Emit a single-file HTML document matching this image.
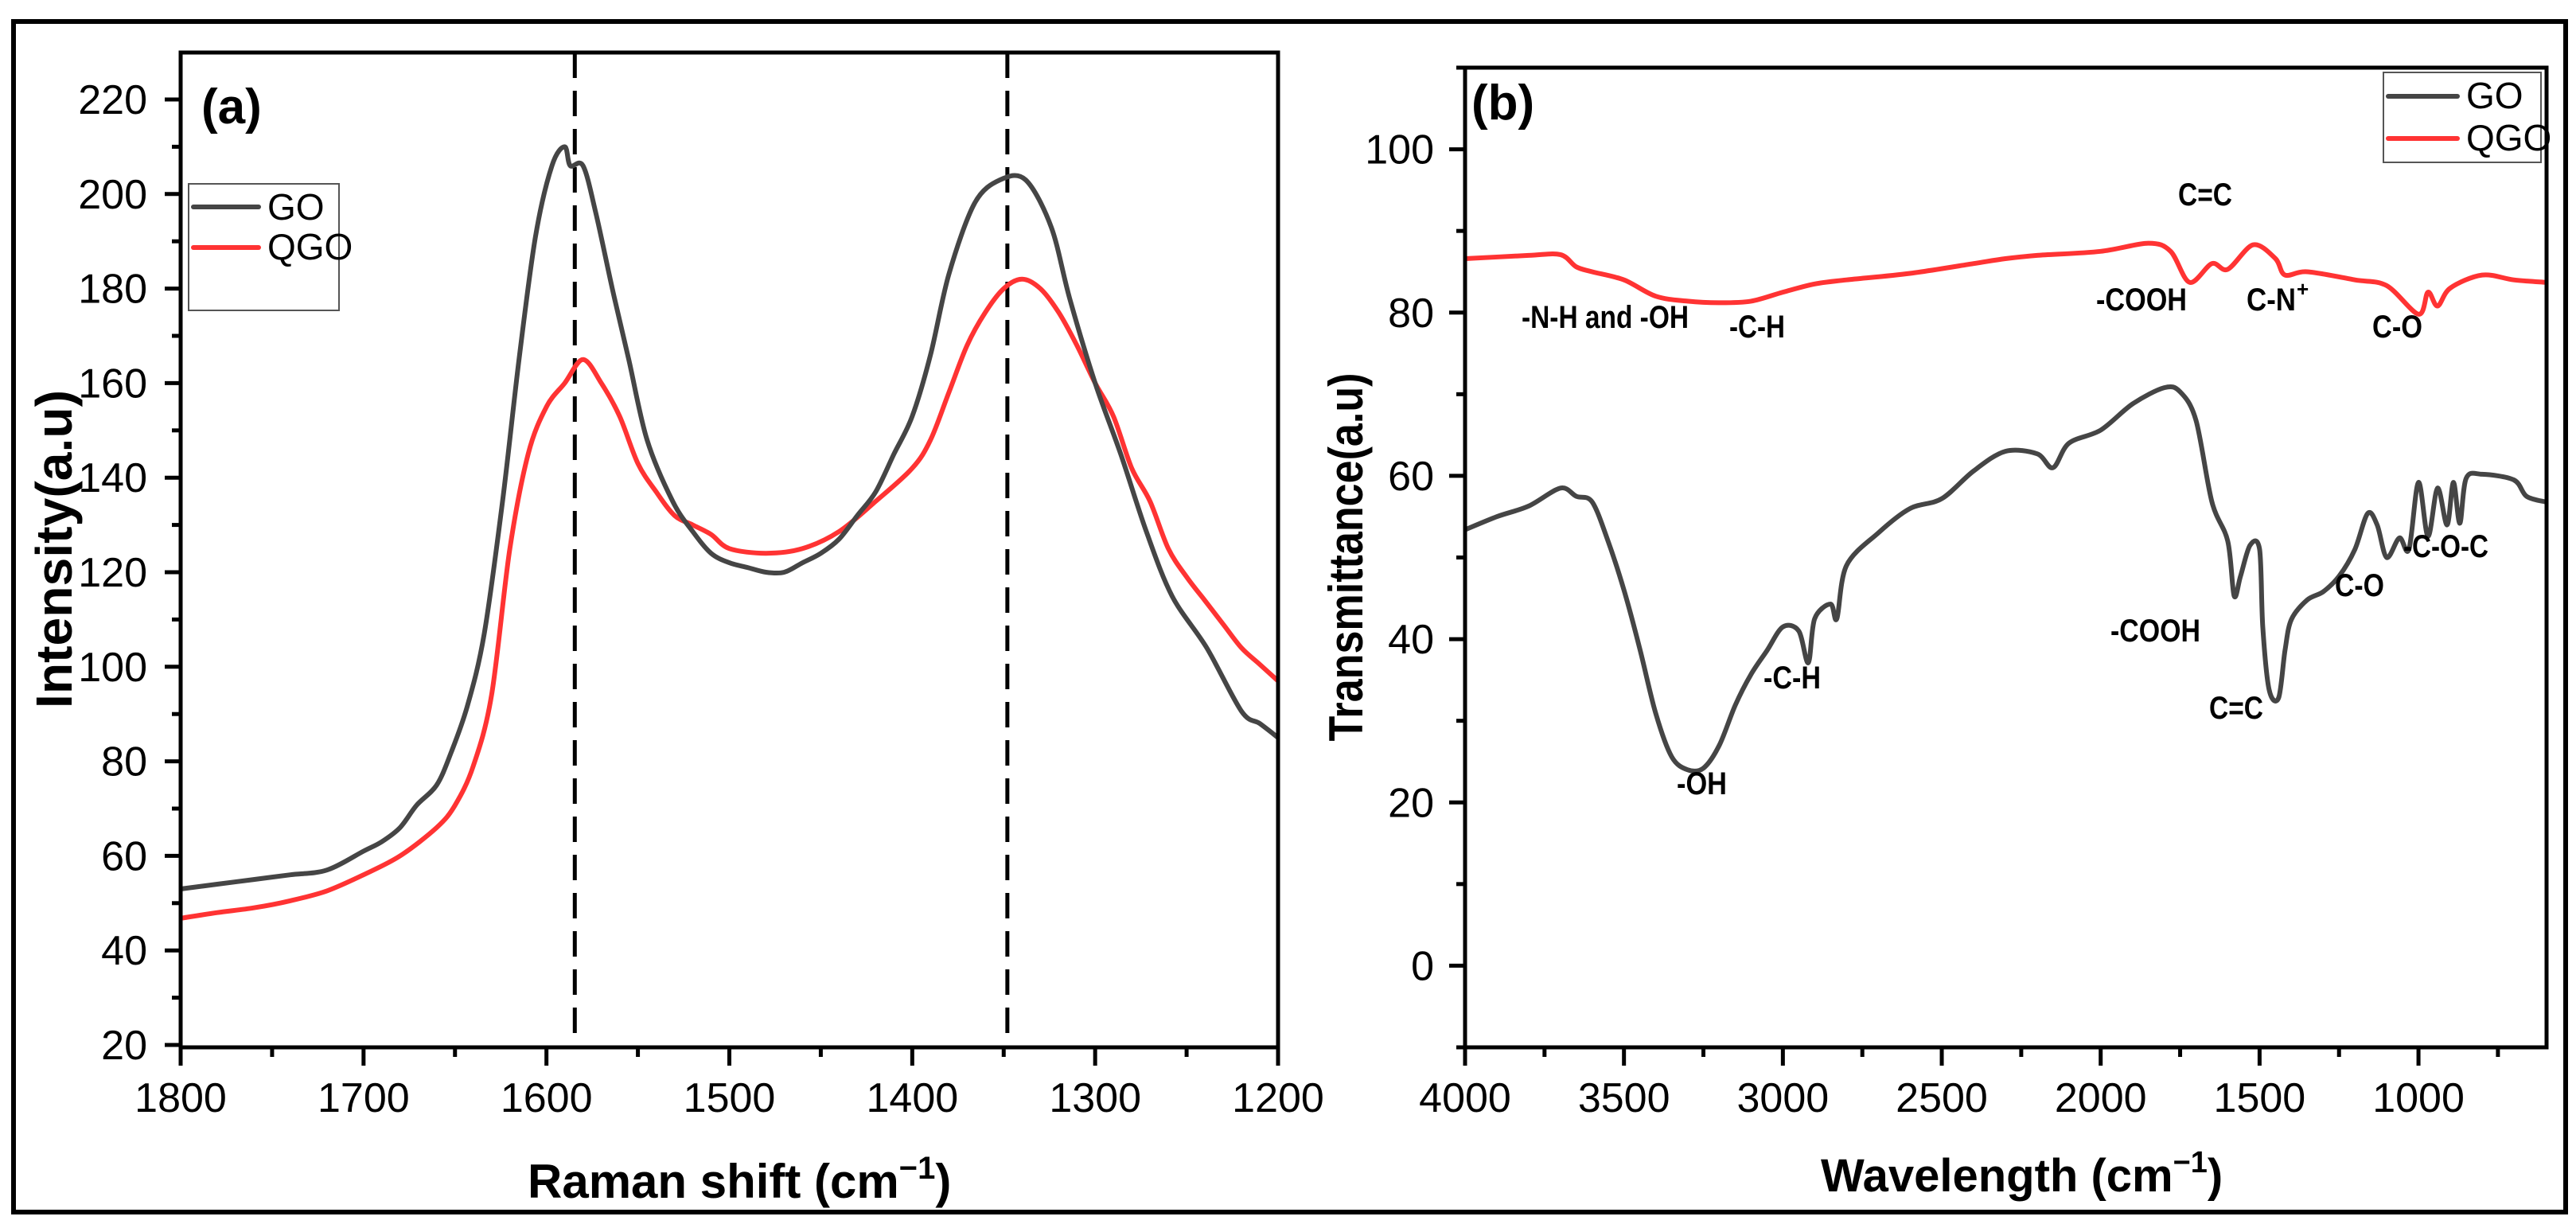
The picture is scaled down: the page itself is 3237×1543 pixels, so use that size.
<!DOCTYPE html>
<html><head><meta charset="utf-8"><style>
html,body{margin:0;padding:0;background:#fff;}
svg{display:block;}
text{font-family:"Liberation Sans",Arial,sans-serif;}
</style></head><body>
<svg id="fig" width="3237" height="1543" viewBox="0 0 3237 1543" xmlns="http://www.w3.org/2000/svg">
<rect x="17" y="27" width="3207" height="1496" fill="none" stroke="#000" stroke-width="6"/>
<g id="pa"></g>
<g id="pb"></g>
</svg>
<script>
// ---------- Panel (a) Raman data ----------
const ramanX = [1800,1780,1760,1740,1720,1700,1690,1680,1671,1660,1652,1643,1634,1624,1615,1606,1597,1590,1587,1580,1573,1564,1555,1545,1531,1520,1510,1500,1490,1480,1470,1460,1450,1440,1430,1420,1410,1400,1390,1380,1366,1352,1338,1324,1314,1300,1286,1272,1258,1239,1220,1210,1200];
const ramanGO = [53,54,55,56,57,61,63,66,70.7,75,82,92,107,135,165,191,206,210,206,206,196,180,165,148,135,128.6,124,122,121,120,120,122,124,127,132,137,145,153,166,183,198,203,203,193,178,160,145,128.6,115,104,90.6,88,85];
const qgoRamanX = [1800,1780,1760,1740,1720,1700,1680,1660,1650,1640,1630,1620,1610,1600,1590,1580,1570,1560,1550,1540,1530,1520,1510,1500,1480,1460,1440,1420,1400,1390,1380,1370,1360,1350,1340,1330,1320,1310,1300,1290,1280,1270,1260,1250,1240,1230,1220,1210,1200];
const ramanQGO = [46.8,48,49,50.5,52.6,56,60,66,70.7,79,94,125,145,155,160,165,160,153,143,137,132,130,128,125,124,125,128.6,135,142,148,158,168,175,180,182,180,175,168,160,153,142,135,125,119,114,109,104,100.5,97];
const ramanYTicks = [20,40,60,80,100,120,140,160,180,200,220];
const ramanXTicks = [1800,1700,1600,1500,1400,1300,1200];
const ramanPeaks = [1584.5,1348];

// ---------- Panel (b) FTIR data ----------
const ftirX_QGO = [4000,3800,3700,3650,3600,3500,3400,3300,3200,3100,3000,2900,2800,2600,2400,2300,2200,2000,1850,1780,1720,1650,1600,1520,1450,1420,1350,1200,1100,1000,970,940,900,800,700,600];
const ftirQGO = [86.6,87,87.1,85.6,85,84,82,81.4,81.2,81.4,82.5,83.5,84,84.8,86,86.6,87,87.5,88.5,87.5,83.7,86,85.3,88.3,86.6,84.6,85,84,83.3,79.8,82.5,80.8,83,84.6,84,83.7];
const ftirX_GO = [4000,3900,3800,3700,3650,3600,3550,3500,3450,3400,3350,3300,3250,3200,3150,3100,3050,3000,2950,2920,2900,2850,2830,2800,2700,2600,2500,2400,2300,2200,2150,2100,2000,1900,1800,1750,1700,1650,1600,1580,1560,1530,1500,1490,1470,1440,1420,1400,1350,1300,1250,1200,1160,1130,1100,1060,1030,1000,970,940,910,890,870,850,800,700,660,600];
const ftirGO = [53.4,55,56.3,58.5,57.5,56.8,52,46,38.8,30.9,25.6,24,24.2,27,31.9,35.7,38.6,41.5,41,37.1,42.5,44.3,42.5,49,53,56,57.2,60.6,63,62.7,61,64,65.6,68.8,70.8,70.3,66.8,56.8,52,45.3,47.7,51.5,51,41.5,33.8,32.8,38.6,42.4,44.8,45.8,47.7,51,55.4,54,50,52.4,51,59.2,52.6,58.5,54,59.2,54.2,59.7,60.2,59.5,57.5,56.8];
const ftirYTicks = [0,20,40,60,80,100];
const ftirXTicks = [4000,3500,3000,2500,2000,1500,1000];

const NS = "http://www.w3.org/2000/svg";
function mk(parent, tag, attrs, txt){
  const e = document.createElementNS(NS, tag);
  for (const k in attrs) e.setAttribute(k, attrs[k]);
  if (txt !== undefined) e.textContent = txt;
  parent.appendChild(e);
  return e;
}
function smoothPath(P){
  let d = 'M' + P[0][0].toFixed(1) + ',' + P[0][1].toFixed(1);
  for (let i = 0; i < P.length - 1; i++) {
    const p0 = P[Math.max(i-1,0)], p1 = P[i], p2 = P[i+1], p3 = P[Math.min(i+2,P.length-1)];
    const t = 0.16;
    const c1 = [p1[0] + (p2[0]-p0[0])*t, p1[1] + (p2[1]-p0[1])*t];
    const c2 = [p2[0] - (p3[0]-p1[0])*t, p2[1] - (p3[1]-p1[1])*t];
    d += ' C' + c1[0].toFixed(1)+','+c1[1].toFixed(1)+' '+c2[0].toFixed(1)+','+c2[1].toFixed(1)+' '+p2[0].toFixed(1)+','+p2[1].toFixed(1);
  }
  return d;
}
function series(g, xs, ys, ax, ay, color, name){
  const P = xs.map((x,i)=> [ax(x), ay(ys[i])]);
  const pl = mk(g, 'path', {d:smoothPath(P), fill:'none', stroke:color, 'stroke-width':6, 'stroke-linejoin':'round'});
  
  
}

// ===== Panel A =====
const A = {l:227, r:1606, t:66, b:1316, x0:1800, x1:1200};
const axA = v => A.l + (A.x0 - v) / (A.x0 - A.x1) * (A.r - A.l);
const ayA = v => 125 + (220 - v) * (118.8/20);
const ga = document.getElementById('pa');

ramanPeaks.forEach(p => {
  const l = mk(ga, 'line', {x1:axA(p), x2:axA(p), y1:A.t, y2:A.b, stroke:'#000', 'stroke-width':5, 'stroke-dasharray':'32 16'});
  
  
});
series(ga, qgoRamanX, ramanQGO, axA, ayA, '#ff3333', 'qgo-raman-line');
series(ga, ramanX, ramanGO, axA, ayA, '#454545', 'go-raman-line');

const fa = mk(ga, 'rect', {x:A.l, y:A.t, width:A.r-A.l, height:A.b-A.t, fill:'none', stroke:'#000', 'stroke-width':5});


for (let v = 20; v <= 225; v += 10) {
  const major = v % 20 === 0;
  mk(ga, 'line', {x1:A.l - (major?20:11), x2:A.l, y1:ayA(v), y2:ayA(v), stroke:'#000', 'stroke-width':5});
}
ramanYTicks.forEach(v => {
  const t = mk(ga, 'text', {x:185, y:ayA(v)+18, 'text-anchor':'end', 'font-size':52}, String(v));
  
  
});
for (let v = 1800; v >= 1200; v -= 50) {
  const major = v % 100 === 0;
  mk(ga, 'line', {x1:axA(v), x2:axA(v), y1:A.b, y2:A.b + (major?23:12), stroke:'#000', 'stroke-width':5});
}
ramanXTicks.forEach(v => {
  const t = mk(ga, 'text', {x:axA(v), y:1397, 'text-anchor':'middle', 'font-size':52}, String(v));
  
  
});
</script>
<script>
(function(){
  const ga = document.getElementById('pa');
  const yt = mk(ga, 'text', {x:0, y:0, transform:'translate(90,690) rotate(-90)', 'text-anchor':'middle', 'font-size':64, 'font-weight':'bold', textLength:400, lengthAdjust:'spacingAndGlyphs'}, 'Intensity(a.u)');
  
  
  const xt = mk(ga, 'text', {x:663, y:1505, 'font-size':60, 'font-weight':'bold'});
  
  
  xt.innerHTML = 'Raman shift (cm<tspan dy="-24" font-size="40">−1</tspan><tspan dy="24">)</tspan>';
  const lab = mk(ga, 'text', {x:253, y:155, 'font-size':62, 'font-weight':'bold', 'font-family':'Liberation Serif, serif'}, '(a)');
  
  
  const lg = mk(ga, 'g', {});
  
  
  mk(lg, 'rect', {x:237, y:231, width:189, height:159, fill:'#fff', stroke:'#555', 'stroke-width':2});
  mk(lg, 'line', {x1:243, x2:325, y1:260, y2:260, stroke:'#454545', 'stroke-width':6, 'stroke-linecap':'round'});
  mk(lg, 'line', {x1:243, x2:325, y1:311, y2:311, stroke:'#ff3333', 'stroke-width':6, 'stroke-linecap':'round'});
  const e1 = mk(lg, 'text', {x:336, y:276, 'font-size':46}, 'GO');
  
  
  const e2 = mk(lg, 'text', {x:336, y:326, 'font-size':46}, 'QGO');
  
  
})();

// ===== Panel B =====
const B = {l:1841, r:3200, t:85, b:1316, x0:4000, x1:597, y0:110, y1:-10};
const axB = v => B.l + (B.x0 - v) / (B.x0 - B.x1) * (B.r - B.l);
const ayB = v => B.t + (B.y0 - v) / (B.y0 - B.y1) * (B.b - B.t);
const gb = document.getElementById('pb');
series(gb, ftirX_GO, ftirGO, axB, ayB, '#454545', 'go-ftir-line');
series(gb, ftirX_QGO, ftirQGO, axB, ayB, '#ff3333', 'qgo-ftir-line');
const fb = mk(gb, 'rect', {x:B.l, y:B.t, width:B.r-B.l, height:B.b-B.t, fill:'none', stroke:'#000', 'stroke-width':5});


for (let v = -10; v <= 110; v += 10) {
  const major = v % 20 === 0;
  mk(gb, 'line', {x1:B.l - (major?20:11), x2:B.l, y1:ayB(v), y2:ayB(v), stroke:'#000', 'stroke-width':5});
}
ftirYTicks.forEach(v => {
  const t = mk(gb, 'text', {x:1802, y:ayB(v)+18, 'text-anchor':'end', 'font-size':52}, String(v));
  
  
});
for (let v = 4000; v >= 750; v -= 250) {
  const major = v % 500 === 0;
  mk(gb, 'line', {x1:axB(v), x2:axB(v), y1:B.b, y2:B.b + (major?23:12), stroke:'#000', 'stroke-width':5});
}
ftirXTicks.forEach(v => {
  const t = mk(gb, 'text', {x:axB(v), y:1397, 'text-anchor':'middle', 'font-size':52}, String(v));
  
  
});
(function(){
  const yt = mk(gb, 'text', {x:0, y:0, transform:'translate(1712,700) rotate(-90)', 'text-anchor':'middle', 'font-size':60, 'font-weight':'bold', textLength:463, lengthAdjust:'spacingAndGlyphs'}, 'Transmittance(a.u)');
  
  
  const xt = mk(gb, 'text', {x:2288, y:1497, 'font-size':58, 'font-weight':'bold'});
  
  
  xt.innerHTML = 'Wavelength (cm<tspan dy="-24" font-size="38">−1</tspan><tspan dy="24">)</tspan>';
  const lab = mk(gb, 'text', {x:1849, y:150, 'font-size':62, 'font-weight':'bold', 'font-family':'Liberation Serif, serif'}, '(b)');
  
  
  const lg = mk(gb, 'g', {});
  
  
  mk(lg, 'rect', {x:2995, y:91, width:198, height:113, fill:'#fff', stroke:'#555', 'stroke-width':2});
  mk(lg, 'line', {x1:3001, x2:3088, y1:121, y2:121, stroke:'#454545', 'stroke-width':6, 'stroke-linecap':'round'});
  mk(lg, 'line', {x1:3001, x2:3088, y1:174, y2:174, stroke:'#ff3333', 'stroke-width':6, 'stroke-linecap':'round'});
  const e1 = mk(lg, 'text', {x:3099, y:136, 'font-size':46}, 'GO');
  
  
  const e2 = mk(lg, 'text', {x:3099, y:189, 'font-size':46}, 'QGO');
  
  
  const ann = [
    ['C=C',2771,258,68,'middle'],['-N-H and -OH',1912,412,210,'start'],['-C-H',2173,424,70,'start'],
    ['-COOH',2634,390,114,'start'],['C-N',2823,390,62,'start'],['C-O',2981,424,63,'start'],
    ['-C-O-C',3020,700,107,'start'],['C-O',2934,749,62,'start'],['-COOH',2652,806,113,'start'],
    ['C=C',2776,903,68,'start'],['-C-H',2216,865,72,'start'],['-OH',2107,998,63,'start']
  ];
  ann.forEach(a => {
    const t = mk(gb, 'text', {x:a[1], y:a[2], 'font-size':40, 'font-weight':'bold', 'text-anchor':a[4], textLength:a[3], lengthAdjust:'spacingAndGlyphs'}, a[0]);
    
    
  });
  const sup = mk(gb, 'text', {x:2886, y:372, 'font-size':26, 'font-weight':'bold'}, '+');
  
  
})();
</script>
</body></html>
